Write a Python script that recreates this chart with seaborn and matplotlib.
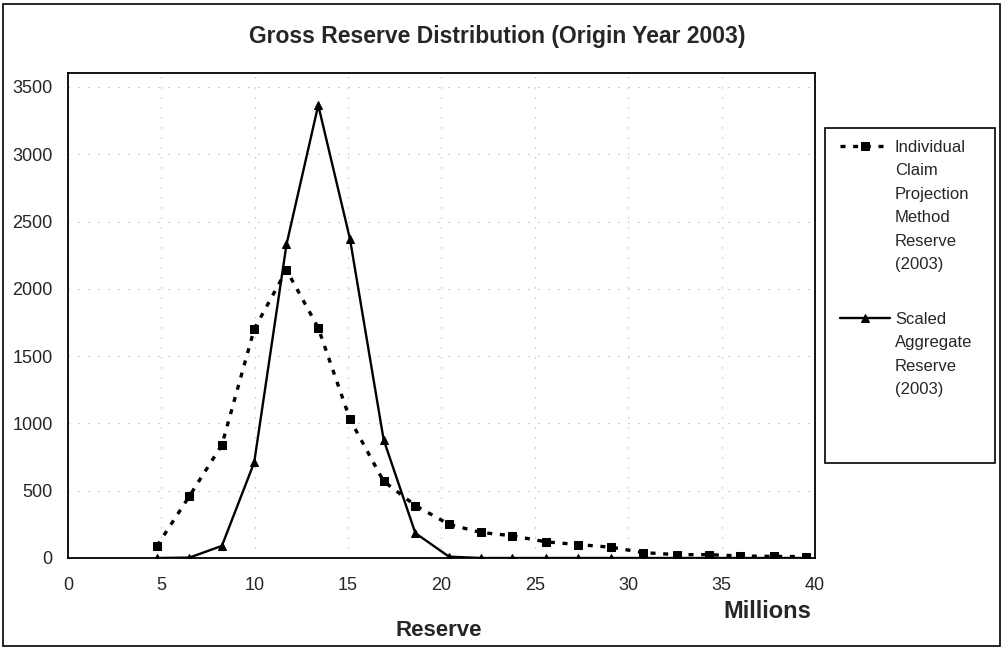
import matplotlib
matplotlib.use("Agg")
import matplotlib.pyplot as plt
import numpy as np
import pandas as pd
import seaborn as sns

sns.set_style("white")
plt.rcParams["font.family"] = ["Liberation Sans", "DejaVu Sans"]

# ── data (reserve in millions, frequency) ────────────────────────────────────
reserve = [4.77, 6.5, 8.24, 9.97, 11.7, 13.4, 15.1, 16.9, 18.6, 20.4, 22.1,
           23.8, 25.6, 27.3, 29.1, 30.8, 32.6, 34.3, 36.0, 37.8, 39.5]
individual = [90, 460, 840, 1700, 2140, 1710, 1030, 570, 390, 250, 190,
              165, 120, 100, 80, 40, 25, 25, 15, 12, 10]
aggregate = [0, 3, 90, 710, 2330, 3365, 2370, 880, 185, 10, 0,
             0, 0, 0, 0, 0, 0, 0, 0, 0, 0]

LBL_IND = "Individual\nClaim\nProjection\nMethod\nReserve\n(2003)"
LBL_AGG = "Scaled\nAggregate\nReserve\n(2003)"

df = pd.DataFrame({"reserve": reserve, "individual": individual, "aggregate": aggregate})

W, H = 1004, 649
fig = plt.figure(figsize=(W / 100, H / 100), dpi=100)
ax = fig.add_axes([68 / W, 1 - 558 / H, (815 - 68) / W, (558 - 73) / H])

sns.lineplot(data=df, x="reserve", y="individual", ax=ax, color="black",
             lw=2.4, ls=(0, (1.5, 2.3)), marker="s", markersize=5.5,
             markeredgecolor="black", label=LBL_IND)
sns.lineplot(data=df, x="reserve", y="aggregate", ax=ax, color="black",
             lw=1.7, ls="-", marker="^", markersize=6,
             markeredgecolor="black", label=LBL_AGG)

ax.set_xlim(0, 40)
ax.set_ylim(0, 3604)
ax.set_xticks(range(0, 41, 5))
ax.set_yticks(range(0, 3501, 500))
ax.tick_params(labelsize=13, length=4, direction="out", color="black")
ax.tick_params(axis="x", pad=10)
ax.tick_params(axis="y", pad=7)
ax.grid(True, color="#aaaaaa", ls=(0, (1, 8)), lw=0.8)
for sp in ax.spines.values():
    sp.set_color("black")
    sp.set_linewidth(1.3)

ax.set_xlabel("")
ax.set_ylabel("")
fig.text(439 / W, 1 - 630 / H, "Reserve", ha="center", va="center",
         fontsize=16, fontweight="bold")
fig.text(767 / W, 1 - 611 / H, "Millions", ha="center", va="center",
         fontsize=17, fontweight="bold")
fig.text(497 / W, 1 - 37 / H, "Gross Reserve Distribution (Origin Year 2003)",
         ha="center", va="center", fontsize=16.5, fontweight="bold")

ax.get_legend().remove()
handles, labels = ax.get_legend_handles_labels()
leg = fig.legend(handles, labels, loc="upper left",
                 bbox_to_anchor=(840 / W, 1 - 140 / H),
                 frameon=False, fontsize=12, handlelength=3.0,
                 handletextpad=0.3, labelspacing=2.4,
                 borderpad=0, borderaxespad=0)
for t in leg.get_texts():
    t.set_linespacing(1.7)
# put each legend handle beside the first line of its label
for col in leg._legend_handle_box.get_children():
    for item in col.get_children():
        item.align = "top"

# legend frame and outer chart frame
fig.patches.append(plt.Rectangle((825 / W, 1 - 463 / H), 170 / W, 335 / H,
                                 transform=fig.transFigure, fill=False,
                                 edgecolor="black", lw=1.2))
fig.patches.append(plt.Rectangle((3 / W, 3 / H), 997 / W, 642 / H,
                                 transform=fig.transFigure, fill=False,
                                 edgecolor="black", lw=1.2))

fig.savefig("out.png", dpi=100)
